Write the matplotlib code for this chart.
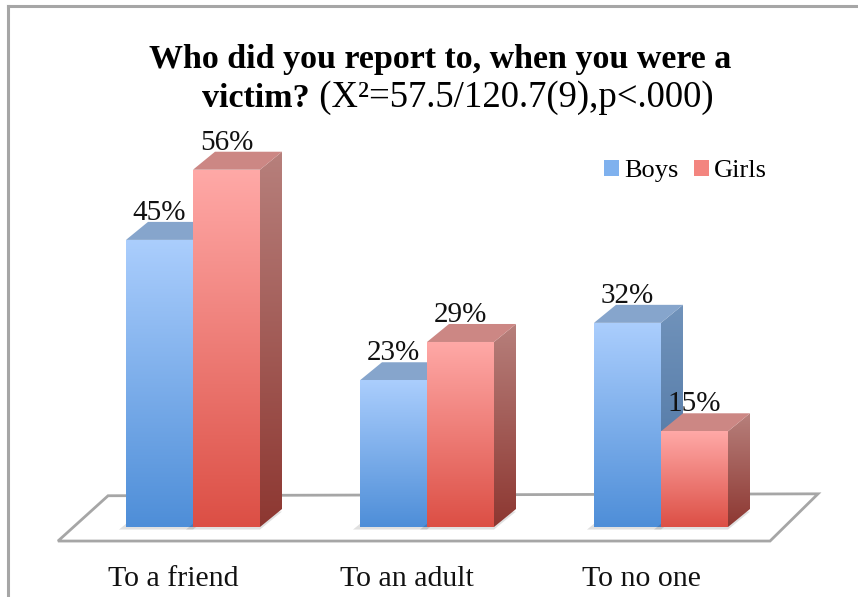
import matplotlib
matplotlib.use("Agg")
import matplotlib.pyplot as plt
import numpy as np
from matplotlib.patches import Polygon, Patch
from matplotlib.colors import LinearSegmentedColormap
from matplotlib.lines import Line2D

# data
categories = ["To a friend", "To an adult", "To no one"]
boys = [45, 23, 32]
girls = [56, 29, 15]
series_names = ["Boys", "Girls"]

W, H = 858, 597
fig = plt.figure(figsize=(W / 100, H / 100), dpi=100)
ax = fig.add_axes([0, 0, 1, 1])
ax.axis("off")

# pixel layout -> data mapping (x: category index, y: percent)
x0_px, step_px = 193, 234      # centre of first group, group spacing
y0_px, unit_px = 527, 6.38     # baseline and pixels per percent
bw = 67 / step_px              # bar width in data units
ddx = 22 / step_px             # 3d depth offsets
ddy = 18 / unit_px

serif = "Liberation Serif"

colors = {
    "Boys": dict(front=("#abcefd", "#4e8ed8"), side=("#7193bb", "#48709f"), top="#86a5cc",
                 legend="#7fb1ee"),
    "Girls": dict(front=("#ffa9a7", "#dc4f45"), side=("#b7807c", "#8d3731"), top="#cc8784",
                  legend="#f3857f"),
}


def grad_poly(verts, c_top, c_bot, z):
    poly = Polygon(verts, closed=True, facecolor="none", edgecolor="none", zorder=z)
    ax.add_patch(poly)
    xs = [v[0] for v in verts]
    ys = [v[1] for v in verts]
    cmap = LinearSegmentedColormap.from_list("g", [c_bot, c_top])
    grad = np.linspace(0, 1, 256).reshape(-1, 1)
    im = ax.imshow(grad, cmap=cmap, origin="lower", aspect="auto", interpolation="bilinear",
                   extent=(min(xs), max(xs), min(ys), max(ys)), zorder=z)
    im.set_clip_path(poly)


def bar3d(x, h, style, z):
    # soft shadow
    ax.add_patch(Polygon([(x - 0.03, -0.4), (x + bw, -0.4), (x + bw + ddx, ddy - 0.4),
                          (x + ddx - 0.03, ddy - 0.4)], closed=True,
                         facecolor="#000000", alpha=0.12, edgecolor="none", zorder=z - 0.5))
    side = [(x + bw, 0), (x + bw + ddx, ddy), (x + bw + ddx, h + ddy), (x + bw, h)]
    grad_poly(side, *style["side"], z)
    top = [(x, h), (x + ddx, h + ddy), (x + bw + ddx, h + ddy), (x + bw, h)]
    ax.add_patch(Polygon(top, closed=True, facecolor=style["top"], edgecolor="none", zorder=z))
    front = [(x, 0), (x, h), (x + bw, h), (x + bw, 0)]
    grad_poly(front, *style["front"], z + 0.1)


# floor
n = len(categories)
floor = [(-0.577, -2.2), (-0.363, 4.9), (n - 1 + 0.671, 5.2), (n - 1 + 0.466, -2.2)]
ax.add_patch(Polygon(floor, closed=True, facecolor="white", edgecolor="#a6a6a6", lw=2, zorder=1))

z = 2
for i in range(n):
    for j, (name, vals) in enumerate(zip(series_names, [boys, girls])):
        x = i - bw + j * bw
        bar3d(x, vals[i], colors[name], z)
        ax.text(x + bw / 2, vals[i] + ddy + 0.3, f"{vals[i]}%", ha="center", va="baseline",
                fontsize=21, family=serif, color="#111111", zorder=50)
        z += 1

for i, c in enumerate(categories):
    ax.text(i - 0.085, (y0_px - 586) / unit_px, c, ha="center", va="baseline", fontsize=21.5,
            family=serif, color="#111111")

ax.set_xlim(-x0_px / step_px, (W - x0_px) / step_px)
ax.set_ylim(-(H - y0_px) / unit_px, y0_px / unit_px)

# legend
handles = [Patch(facecolor=colors[s]["legend"], edgecolor="none", label=s) for s in series_names]
fig.legend(handles=handles, loc="center left", bbox_to_anchor=(604 / W, 1 - 171 / H),
           ncol=2, frameon=False, handlelength=0.55, handleheight=0.55, handletextpad=0.2,
           columnspacing=0.6, borderpad=0, borderaxespad=0,
           prop=dict(family=serif, size=19))

# title
fig.text(440 / W, 1 - 68 / H, "Who did you report to, when you were a", ha="center",
         va="baseline", fontsize=24.5, fontweight="bold", family=serif)
t1 = fig.text(0, 1 - 107 / H, "victim?", ha="left", va="baseline", fontsize=24.5,
              fontweight="bold", family=serif)
t2 = fig.text(0, 1 - 107 / H, " (X\u00b2=57.5/120.7(9),p<.000)", ha="left", va="baseline",
              fontsize=26.5, family=serif)
r = fig.canvas.get_renderer()
w1 = t1.get_window_extent(r).width
w2 = t2.get_window_extent(r).width
left = 458 - (w1 + w2) / 2
t1.set_x(left / W)
t2.set_x((left + w1) / W)

# chart frame
fig.add_artist(Line2D([8 / W, 1], [1 - 6 / H, 1 - 6 / H], color="#a6a6a6", lw=2.2))
fig.add_artist(Line2D([8 / W, 8 / W], [0, 1 - 6 / H], color="#a6a6a6", lw=2.2))

fig.savefig("out.png", dpi=100)
